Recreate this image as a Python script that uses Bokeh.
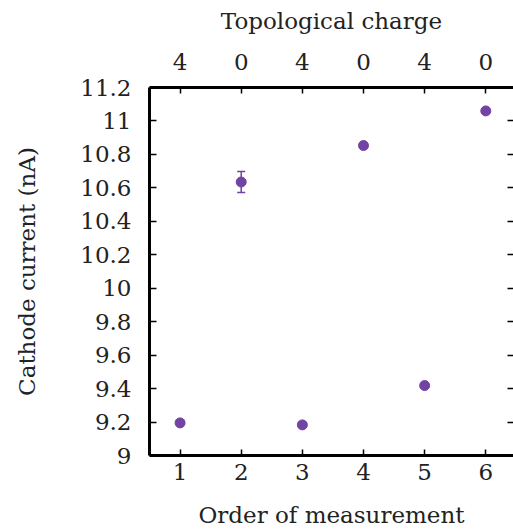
from bokeh.plotting import figure
from bokeh.models import LinearAxis, FixedTicker, Whisker, ColumnDataSource, TeeHead, Range1d
from bokeh.embed import file_html
from bokeh.resources import INLINE

order = [1, 2, 3, 4, 5, 6]
current = [9.195, 10.635, 9.183, 10.853, 9.418, 11.06]
err = [0.006, 0.063, 0.005, 0.006, 0.009, 0.006]
charge = ["4", "0", "4", "0", "4", "0"]
y_ticks = [9.0, 9.2, 9.4, 9.6, 9.8, 10.0, 10.2, 10.4, 10.6, 10.8, 11.0, 11.2]
y_tick_labels = ["9", "9.2", "9.4", "9.6", "9.8", "10", "10.2", "10.4", "10.6", "10.8", "11", "11.2"]

FONT = "DejaVu Serif"
FS = "23px"
COLOR = "#7143a3"
TXT = "#222222"

src = ColumnDataSource(dict(
    x=order, y=current,
    upper=[c + e for c, e in zip(current, err)],
    lower=[c - e for c, e in zip(current, err)],
))

p = figure(width=513, height=532, output_backend="svg", toolbar_location=None,
           x_range=Range1d(0.5, 6.453), y_range=Range1d(9.0, 11.2),
           x_axis_location=None, y_axis_location=None,
           min_border_left=149, min_border_right=0, min_border_top=87, min_border_bottom=77)
p.grid.visible = False
p.outline_line_color = None
p.background_fill_color = "white"
p.border_fill_color = "white"


def style(ax):
    ax.major_label_text_font = FONT
    ax.major_label_text_font_size = FS
    ax.major_label_text_color = TXT
    ax.axis_label_text_font = FONT
    ax.axis_label_text_font_size = FS
    ax.axis_label_text_font_style = "normal"
    ax.axis_label_text_color = TXT
    ax.axis_line_width = 3
    ax.axis_line_color = "black"
    ax.major_tick_line_width = 1.5
    ax.major_tick_line_color = "black"
    ax.major_tick_out = 0
    ax.minor_tick_line_color = None


left = LinearAxis(axis_label="Cathode current (nA)", ticker=FixedTicker(ticks=y_ticks),
                  major_label_overrides=dict(zip(y_ticks, y_tick_labels)))
style(left)
left.major_tick_in = 7
left.major_label_standoff = 18
left.axis_label_standoff = 37
p.add_layout(left, "left")

bottom = LinearAxis(axis_label="Order of measurement", ticker=FixedTicker(ticks=order),
                    major_label_overrides={o: str(o) for o in order})
style(bottom)
bottom.major_tick_in = 6
bottom.major_label_standoff = 8
bottom.axis_label_standoff = 19
p.add_layout(bottom, "below")

top = LinearAxis(axis_label="Topological charge", ticker=FixedTicker(ticks=order),
                 major_label_overrides=dict(zip(order, charge)))
style(top)
top.major_tick_in = 6
top.major_label_standoff = 18
top.axis_label_standoff = 17
p.add_layout(top, "above")

right = LinearAxis(ticker=FixedTicker(ticks=y_ticks),
                   major_label_overrides={t: "" for t in y_ticks})
style(right)
right.major_label_text_font_size = "1px"
right.axis_line_color = None
right.major_tick_in = 6
right.major_label_standoff = 0
p.add_layout(right, "right")

p.add_layout(Whisker(base="x", upper="upper", lower="lower", source=src,
                     line_color=COLOR, line_width=1.5,
                     upper_head=TeeHead(size=8, line_color=COLOR, line_width=1.5),
                     lower_head=TeeHead(size=8, line_color=COLOR, line_width=1.5)))
p.scatter("x", "y", source=src, size=10, color=COLOR)

open("out.html", "w").write(file_html(p, INLINE))
